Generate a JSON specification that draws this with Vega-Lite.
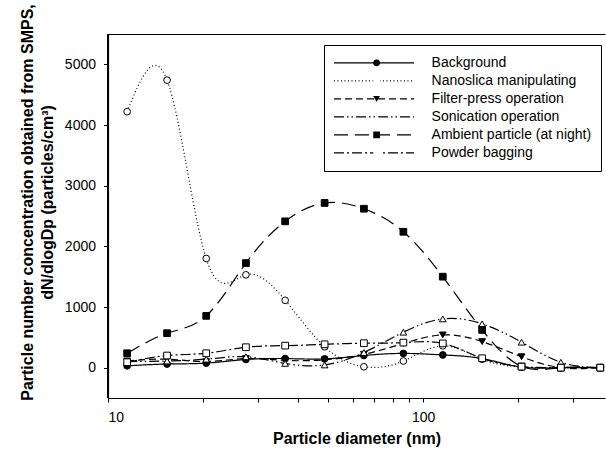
{
  "$schema": "https://vega.github.io/schema/vega-lite/v6.json",
  "width": 497,
  "height": 364,
  "autosize": {"type": "none"},
  "padding": {"left": 108, "top": 34, "right": 1, "bottom": 60},
  "background": "white",
  "config": {
    "view": {"stroke": null},
    "font": "Liberation Sans",
    "axis": {
      "domain": true, "domainColor": "black", "domainWidth": 1.2, "tickColor": "black", "tickWidth": 1,
      "labelColor": "black", "titleColor": "black", "labelFont": "Liberation Sans", "titleFont": "Liberation Sans",
      "labelFontSize": 14, "titleFontSize": 16, "titleFontWeight": "bold", "grid": false
    },
    "axisY": {"domain": true, "domainColor": "black"},
    "legend": {"labelFont": "Liberation Sans", "labelColor": "black"}
  },
  "data": {"values": [
    {"d": 11.5, "v": 30, "s": "Background"},
    {"d": 15.4, "v": 60, "s": "Background"},
    {"d": 20.5, "v": 75, "s": "Background"},
    {"d": 27.4, "v": 135, "s": "Background"},
    {"d": 36.5, "v": 150, "s": "Background"},
    {"d": 48.7, "v": 145, "s": "Background"},
    {"d": 64.9, "v": 200, "s": "Background"},
    {"d": 86.6, "v": 235, "s": "Background"},
    {"d": 115.5, "v": 210, "s": "Background"},
    {"d": 154.0, "v": 150, "s": "Background"},
    {"d": 205.4, "v": 10, "s": "Background"},
    {"d": 273.8, "v": 0, "s": "Background"},
    {"d": 365.2, "v": 0, "s": "Background"},
    {"d": 11.5, "v": 4220, "s": "Nanoslica manipulating"},
    {"d": 15.4, "v": 4740, "s": "Nanoslica manipulating"},
    {"d": 20.5, "v": 1800, "s": "Nanoslica manipulating"},
    {"d": 27.4, "v": 1530, "s": "Nanoslica manipulating"},
    {"d": 36.5, "v": 1110, "s": "Nanoslica manipulating"},
    {"d": 48.7, "v": 345, "s": "Nanoslica manipulating"},
    {"d": 64.9, "v": 15, "s": "Nanoslica manipulating"},
    {"d": 86.6, "v": 110, "s": "Nanoslica manipulating"},
    {"d": 115.5, "v": 360, "s": "Nanoslica manipulating"},
    {"d": 154.0, "v": 140, "s": "Nanoslica manipulating"},
    {"d": 205.4, "v": 10, "s": "Nanoslica manipulating"},
    {"d": 273.8, "v": 5, "s": "Nanoslica manipulating"},
    {"d": 365.2, "v": 0, "s": "Nanoslica manipulating"},
    {"d": 11.5, "v": 110, "s": "Filter-press operation"},
    {"d": 15.4, "v": 140, "s": "Filter-press operation"},
    {"d": 20.5, "v": 100, "s": "Filter-press operation"},
    {"d": 27.4, "v": 150, "s": "Filter-press operation"},
    {"d": 36.5, "v": 120, "s": "Filter-press operation"},
    {"d": 48.7, "v": 130, "s": "Filter-press operation"},
    {"d": 64.9, "v": 220, "s": "Filter-press operation"},
    {"d": 86.6, "v": 400, "s": "Filter-press operation"},
    {"d": 115.5, "v": 540, "s": "Filter-press operation"},
    {"d": 154.0, "v": 430, "s": "Filter-press operation"},
    {"d": 205.4, "v": 180, "s": "Filter-press operation"},
    {"d": 273.8, "v": 0, "s": "Filter-press operation"},
    {"d": 365.2, "v": 0, "s": "Filter-press operation"},
    {"d": 11.5, "v": 100, "s": "Sonication operation"},
    {"d": 15.4, "v": 110, "s": "Sonication operation"},
    {"d": 20.5, "v": 140, "s": "Sonication operation"},
    {"d": 27.4, "v": 180, "s": "Sonication operation"},
    {"d": 36.5, "v": 70, "s": "Sonication operation"},
    {"d": 48.7, "v": 45, "s": "Sonication operation"},
    {"d": 64.9, "v": 250, "s": "Sonication operation"},
    {"d": 86.6, "v": 585, "s": "Sonication operation"},
    {"d": 115.5, "v": 804, "s": "Sonication operation"},
    {"d": 154.0, "v": 722, "s": "Sonication operation"},
    {"d": 205.4, "v": 420, "s": "Sonication operation"},
    {"d": 273.8, "v": 89, "s": "Sonication operation"},
    {"d": 365.2, "v": 0, "s": "Sonication operation"},
    {"d": 11.5, "v": 237, "s": "Ambient particle (at night)"},
    {"d": 15.4, "v": 568, "s": "Ambient particle (at night)"},
    {"d": 20.5, "v": 854, "s": "Ambient particle (at night)"},
    {"d": 27.4, "v": 1724, "s": "Ambient particle (at night)"},
    {"d": 36.5, "v": 2412, "s": "Ambient particle (at night)"},
    {"d": 48.7, "v": 2715, "s": "Ambient particle (at night)"},
    {"d": 64.9, "v": 2620, "s": "Ambient particle (at night)"},
    {"d": 86.6, "v": 2240, "s": "Ambient particle (at night)"},
    {"d": 115.5, "v": 1500, "s": "Ambient particle (at night)"},
    {"d": 154.0, "v": 622, "s": "Ambient particle (at night)"},
    {"d": 205.4, "v": 20, "s": "Ambient particle (at night)"},
    {"d": 273.8, "v": 0, "s": "Ambient particle (at night)"},
    {"d": 365.2, "v": 0, "s": "Ambient particle (at night)"},
    {"d": 11.5, "v": 90, "s": "Powder bagging"},
    {"d": 15.4, "v": 200, "s": "Powder bagging"},
    {"d": 20.5, "v": 237, "s": "Powder bagging"},
    {"d": 27.4, "v": 337, "s": "Powder bagging"},
    {"d": 36.5, "v": 363, "s": "Powder bagging"},
    {"d": 48.7, "v": 385, "s": "Powder bagging"},
    {"d": 64.9, "v": 403, "s": "Powder bagging"},
    {"d": 86.6, "v": 413, "s": "Powder bagging"},
    {"d": 115.5, "v": 400, "s": "Powder bagging"},
    {"d": 154.0, "v": 155, "s": "Powder bagging"},
    {"d": 205.4, "v": 17, "s": "Powder bagging"},
    {"d": 273.8, "v": 0, "s": "Powder bagging"},
    {"d": 365.2, "v": 0, "s": "Powder bagging"}
  ]},
  "resolve": {"axis": {"x": "independent"}},
  "layer": [
    {
      "mark": {"type": "rule", "color": "black", "strokeWidth": 1.2},
      "encoding": {"x": {"datum": 10, "type": "quantitative", "axis": null}}
    },
    {
      "mark": {"type": "line", "interpolate": "natural", "color": "black", "strokeWidth": 1.2},
      "encoding": {
        "x": {"field": "d", "type": "quantitative",
          "scale": {"type": "log", "domain": [10, 378], "nice": false},
          "axis": {"orient": "bottom", "values": [10, 20, 30, 40, 50, 60, 70, 80, 90, 100, 200, 300],
            "labelExpr": "(datum.value == 10 || datum.value == 100) ? format(datum.value, 'd') : ''",
            "tickSize": 4, "labelPadding": 8, "title": "Particle diameter (nm)", "titlePadding": 6}},
        "y": {"field": "v", "type": "quantitative",
          "scale": {"domain": [-500, 5500], "nice": false, "zero": false},
          "axis": {"orient": "left", "domain": true, "domainColor": "black", "domainWidth": 1.2,
            "values": [0, 1000, 2000, 3000, 4000, 5000], "format": "d", "tickSize": 4.5, "labelPadding": 8,
            "title": ["Particle number concentration obtained from SMPS,", "dN/dlogDp (particles/cm³)"],
            "titleLineHeight": 20, "titlePadding": 9, "titleY": 168}},
        "detail": {"field": "s"},
        "strokeDash": {"field": "s", "type": "nominal",
          "scale": {"domain": ["Background", "Nanoslica manipulating", "Filter-press operation", "Sonication operation", "Ambient particle (at night)", "Powder bagging"],
            "range": [[1, 0], [1, 2.5], [7, 4], [10, 3, 1.5, 3, 1.5, 3], [14, 7], [10, 3, 2, 3]]},
          "legend": {"orient": "none", "legendX": 216, "legendY": 11, "padding": 9, "title": null,
            "symbolType": "stroke", "symbolSize": 6400, "symbolStrokeColor": "black", "symbolStrokeWidth": 1.2,
            "clipHeight": 17.6, "rowPadding": 0, "labelExpr": "''", "labelFontSize": 14, "zindex": 0}}
      }
    },
    {
      "mark": {"type": "point", "filled": true, "stroke": "black", "strokeWidth": 1, "size": 45, "opacity": 1},
      "encoding": {
        "x": {"field": "d", "type": "quantitative",
          "axis": {"orient": "top", "labels": false, "ticks": false, "title": null, "domain": true}},
        "y": {"field": "v", "type": "quantitative",
          "axis": {"orient": "left", "domain": true, "domainColor": "black", "domainWidth": 1.2,
            "values": [0, 1000, 2000, 3000, 4000, 5000], "format": "d", "tickSize": 4.5, "labelPadding": 8,
            "title": ["Particle number concentration obtained from SMPS,", "dN/dlogDp (particles/cm³)"],
            "titleLineHeight": 20, "titlePadding": 9, "titleY": 168}},
        "shape": {"field": "s", "type": "nominal", "sort": null,
          "scale": {"range": ["circle", "circle", "triangle-down", "triangle-up", "square", "square"]},
          "legend": {"orient": "none", "legendX": 216, "legendY": 11, "padding": 9, "title": null,
            "strokeColor": "black", "symbolOffset": 36.6, "labelOffset": 48,
            "symbolStrokeColor": "black", "symbolStrokeWidth": 1, "symbolSize": 45,
            "clipHeight": 17.6, "rowPadding": 0, "labelFontSize": 14, "zindex": 1}},
        "fill": {"field": "s", "type": "nominal", "sort": null,
          "scale": {"range": ["black", "white", "black", "white", "black", "white"]},
          "legend": {"orient": "none", "legendX": 216, "legendY": 11, "padding": 9, "title": null,
            "strokeColor": "black", "symbolOffset": 36.6, "labelOffset": 48,
            "symbolStrokeColor": "black", "symbolStrokeWidth": 1, "symbolSize": 45,
            "clipHeight": 17.6, "rowPadding": 0, "labelFontSize": 14, "zindex": 1}}
      }
    }
  ]
}
